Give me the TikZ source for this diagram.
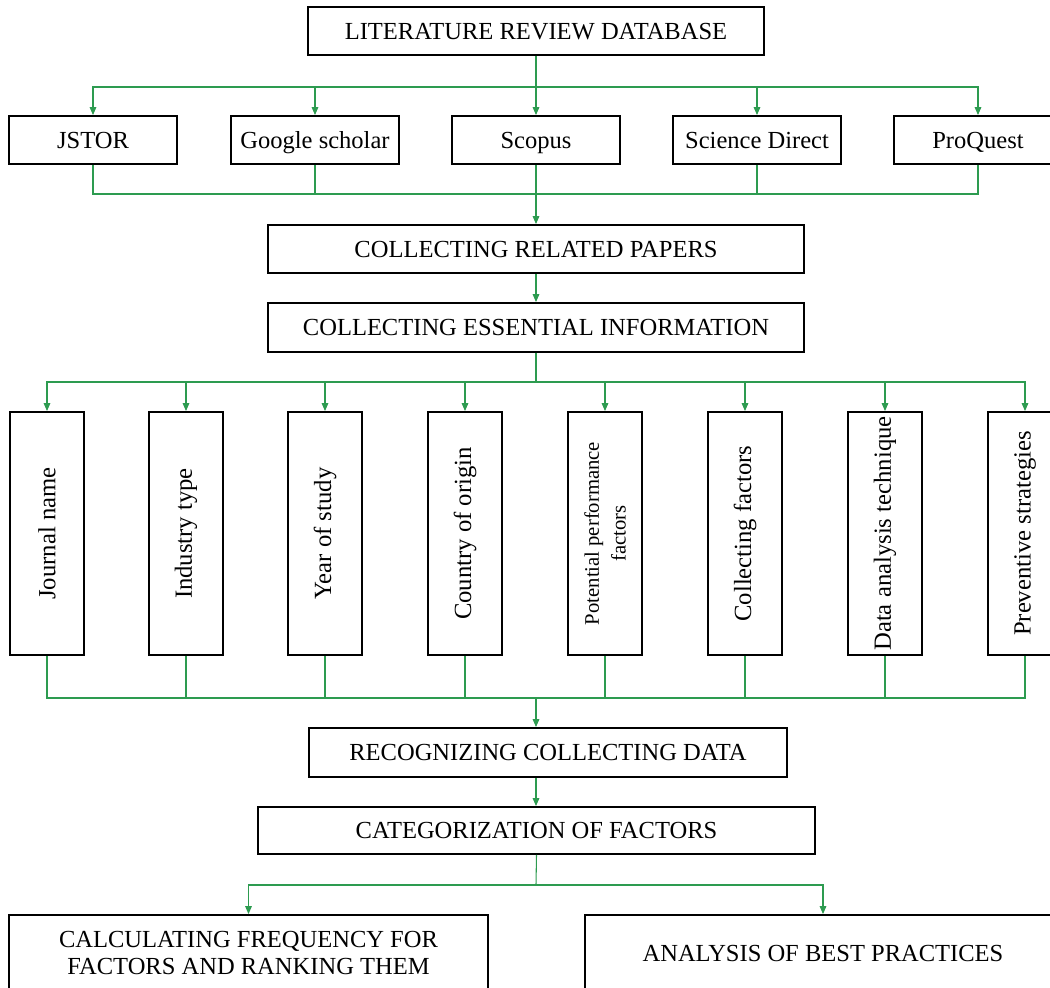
\documentclass[tikz,border=0pt]{standalone}
\usepackage{fontspec}
\setmainfont{Liberation Serif}
\usetikzlibrary{arrows.meta}
\definecolor{lg}{RGB}{45,155,80}
\begin{document}
\begin{tikzpicture}[x=0.75pt,y=-0.75pt,
 box/.style={draw=black,line width=1.4pt,fill=white,inner sep=0pt,align=center,font=\fontsize{18.4}{20}\selectfont},
 oneline/.style={text height=12.2pt,text depth=0pt},
 hbox/.style={box,oneline,minimum width={168*0.75pt},minimum height={48*0.75pt}},
 vbox/.style={box,rotate=90,minimum width={243*0.75pt},minimum height={74*0.75pt},font=\fontsize{18.5}{21}\selectfont},
 conn/.style={draw=lg,line width=0.8pt},
 arr/.style={conn,-{Triangle[length=6pt,width=5pt]}}]
\useasboundingbox (0,0) rectangle (1050,988);
\clip (0,0) rectangle (1050,988);

% top
\node[box,oneline,minimum width={456*0.75pt},minimum height={48*0.75pt}] (lit) at (536,31) {LITERATURE REVIEW DATABASE};

% databases
\node[hbox] (jstor) at (93,140) {JSTOR};
\node[hbox] (google) at (315,140) {Google scholar};
\node[hbox] (scopus) at (536,140) {Scopus};
\node[hbox] (sd) at (757,140) {Science Direct};
\node[hbox] (pq) at (978,140) {ProQuest};

\node[box,oneline,minimum width={536*0.75pt},minimum height={48*0.75pt}] (crp) at (536,249) {COLLECTING RELATED PAPERS};
\node[box,oneline,minimum width={536*0.75pt},minimum height={49*0.75pt}] (cei) at (536,327.5) {COLLECTING ESSENTIAL INFORMATION};

% vertical boxes
\node[vbox] (v1) at (47,533.5) {Journal name};
\node[vbox] (v2) at (186,533.5) {Industry type};
\node[vbox] (v3) at (325,533.5) {Year of study};
\node[vbox] (v4) at (465,533.5) {Country of origin};
\node[vbox,font=\fontsize{15.5}{20}\selectfont] (v5) at (605,533.5) {Potential performance\\factors};
\node[vbox] (v6) at (745,533.5) {Collecting factors};
\node[vbox] (v7) at (885,533.5) {Data analysis technique};
\node[vbox] (v8) at (1025,533.5) {Preventive strategies};

\node[box,oneline,minimum width={478*0.75pt},minimum height={49*0.75pt}] (recog) at (548,752.5) {RECOGNIZING COLLECTING DATA};
\node[box,oneline,minimum width={557*0.75pt},minimum height={47*0.75pt}] (categ) at (536.5,830.5) {CATEGORIZATION OF FACTORS};

\node[box,minimum width={479*0.75pt},minimum height={76*0.75pt}] (calc) at (248.5,953) {CALCULATING FREQUENCY FOR\\FACTORS AND RANKING THEM};
\node[box,minimum width={476*0.75pt},minimum height={76*0.75pt}] (best) at (823,953) {ANALYSIS OF BEST PRACTICES};

% junctions
\coordinate (j1) at (536,87);
\coordinate (j2) at (536,194);
\coordinate (j3) at (536,382);
\coordinate (j4) at (536,698);
\coordinate (j5) at (536,885);

% connectors: top fan-out
\draw[conn] (lit.south) -- (j1);
\foreach \n in {jstor,google,scopus,sd,pq} \draw[arr] (j1) -| (\n.north);
% fan-in
\foreach \n in {jstor,google,scopus,sd,pq} \draw[conn] (\n.south) |- (j2);
\draw[arr] (j2) -- (crp.north);
\draw[arr] (crp.south) -- (cei.north);
% second fan-out
\draw[conn] (cei.south) -- (j3);
\foreach \n in {v1,v2,v3,v4,v5,v6,v7,v8} \draw[arr] (j3) -| (\n.east);
\foreach \n in {v1,v2,v3,v4,v5,v6,v7,v8} \draw[conn] (\n.west) |- (j4);
\draw[arr] (j4) -- (j4 |- recog.north);
\draw[arr] (j4 |- recog.south) -- (j4 |- categ.north);
\draw[conn] (categ.south) -- (j5);
\draw[arr] (j5) -| (calc.north);
\draw[arr] (j5) -| (best.north);
\end{tikzpicture}
\end{document}
